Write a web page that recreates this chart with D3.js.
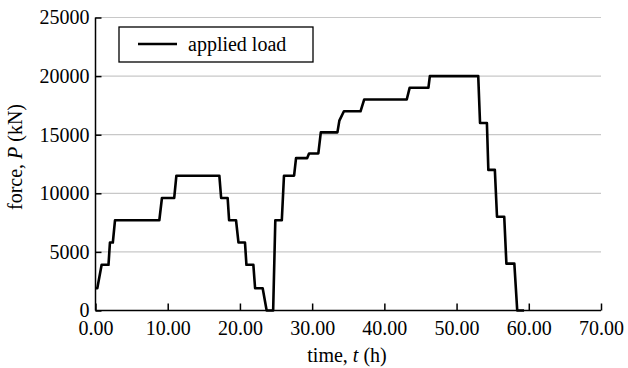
<!DOCTYPE html>
<html>
<head>
<meta charset="utf-8">
<script src="https://cdn.jsdelivr.net/npm/d3@7"></script>
<style>
  body { margin: 0; background: #fff; }
  text { font-family: "Liberation Serif", "DejaVu Serif", serif; fill: #000; }
</style>
</head>
<body>
<script>
// applied load history, step by step

const timeH = [0, 0.25, 0.85, 1.8, 2.0, 2.4, 2.7, 8.84, 9.2, 10.9, 11.2, 17.15, 17.4, 18.3, 18.5,
               19.46, 19.8, 20.7, 20.9, 21.86, 22.1, 23.15, 23.7, 24.6, 24.9, 25.8, 26.1, 27.5, 27.77,
               29.3, 29.57, 30.86, 31.2, 33.5, 33.77, 34.4, 36.7, 37.2, 43.1, 43.5, 46.1, 46.3, 53.0,
               53.25, 54.2, 54.4, 55.3, 55.6, 56.6, 56.9, 58.0, 58.4, 59.35];
const loadKN = [1900, 1900, 3900, 3900, 5800, 5800, 7700, 7700, 9600, 9600, 11500, 11500, 9600, 9600, 7700,
                7700, 5800, 5800, 3900, 3900, 1900, 1900, 0, 0, 7700, 7700, 11500, 11500, 13000,
                13000, 13400, 13400, 15200, 15200, 16200, 17000, 17000, 18000, 18000, 19000, 19000, 20000, 20000,
                16000, 16000, 12000, 12000, 8000, 8000, 4000, 4000, 0, 0];

const xTicks = [0, 10, 20, 30, 40, 50, 60, 70];
const yTicks = [0, 5000, 10000, 15000, 20000, 25000];
const legendLabel = "applied load";

const W = 628, H = 368;
const margin = {top: 17.5, right: 27, bottom: 57.5, left: 95.5};
const innerW = W - margin.left - margin.right;
const innerH = H - margin.top - margin.bottom;
const serif = "'Liberation Serif', 'DejaVu Serif', serif";

const svg = d3.select("body").append("svg")
  .attr("width", W)
  .attr("height", H);

const g = svg.append("g")
  .attr("transform", "translate(" + margin.left + "," + margin.top + ")");

const x = d3.scaleLinear().domain([0, 70]).range([0, innerW]);
const y = d3.scaleLinear().domain([0, 25000]).range([innerH, 0]);

// horizontal grid
g.append("g")
  .selectAll("line")
  .data(yTicks.filter(d => d > 0))
  .join("line")
  .attr("x1", 0)
  .attr("x2", innerW)
  .attr("y1", d => y(d))
  .attr("y2", d => y(d))
  .attr("stroke", "#c8c8c8")
  .attr("stroke-width", 1.2);

// x axis
const xAxis = g.append("g")
  .attr("transform", "translate(0," + innerH + ")")
  .call(d3.axisBottom(x).tickValues(xTicks).tickFormat(d3.format(".2f")).tickSize(-7).tickPadding(12))
  .attr("font-family", serif)
  .attr("font-size", 20);
xAxis.select(".domain").attr("stroke-width", 1.5).attr("d", "M0,0H" + innerW);
xAxis.selectAll(".tick line").attr("stroke-width", 1.5);
xAxis.selectAll("text").attr("dy", "0.62em");

// y axis
const yAxis = g.append("g")
  .call(d3.axisLeft(y).tickValues(yTicks).tickFormat(d3.format("d")).tickSize(-6).tickPadding(6))
  .attr("font-family", serif)
  .attr("font-size", 20);
yAxis.select(".domain").attr("stroke-width", 1.5).attr("d", "M0," + innerH + "V0");
yAxis.selectAll(".tick line").attr("stroke-width", 1.5);

// axis titles
const xt = svg.append("text")
  .attr("x", 347)
  .attr("y", 362)
  .attr("text-anchor", "middle")
  .style("font-size", "20px");
xt.append("tspan").text("time, ");
xt.append("tspan").style("font-style", "italic").text("t");
xt.append("tspan").text(" (h)");

const yt = svg.append("text")
  .attr("transform", "translate(22,157) rotate(-90)")
  .attr("text-anchor", "middle")
  .style("font-size", "20px");
yt.append("tspan").text("force, ");
yt.append("tspan").style("font-style", "italic").text("P");
yt.append("tspan").text(" (kN)");

// load line
const pts = timeH.map((t, i) => [t, loadKN[i]]);
g.append("path")
  .datum(pts)
  .attr("fill", "none")
  .attr("stroke", "#000")
  .attr("stroke-width", 2.6)
  .attr("stroke-linejoin", "round")
  .attr("d", d3.line().x(d => x(d[0])).y(d => y(d[1])));

// legend
const lg = svg.append("g").attr("transform", "translate(119,27)");
lg.append("rect")
  .attr("width", 194)
  .attr("height", 35)
  .attr("fill", "#fff")
  .attr("stroke", "#000")
  .attr("stroke-width", 1.3);
lg.append("line")
  .attr("x1", 19).attr("x2", 58)
  .attr("y1", 17).attr("y2", 17)
  .attr("stroke", "#000")
  .attr("stroke-width", 2.6);
lg.append("text")
  .attr("x", 69)
  .attr("y", 24)
  .style("font-size", "20px")
  .text(legendLabel);
</script>
</body>
</html>
